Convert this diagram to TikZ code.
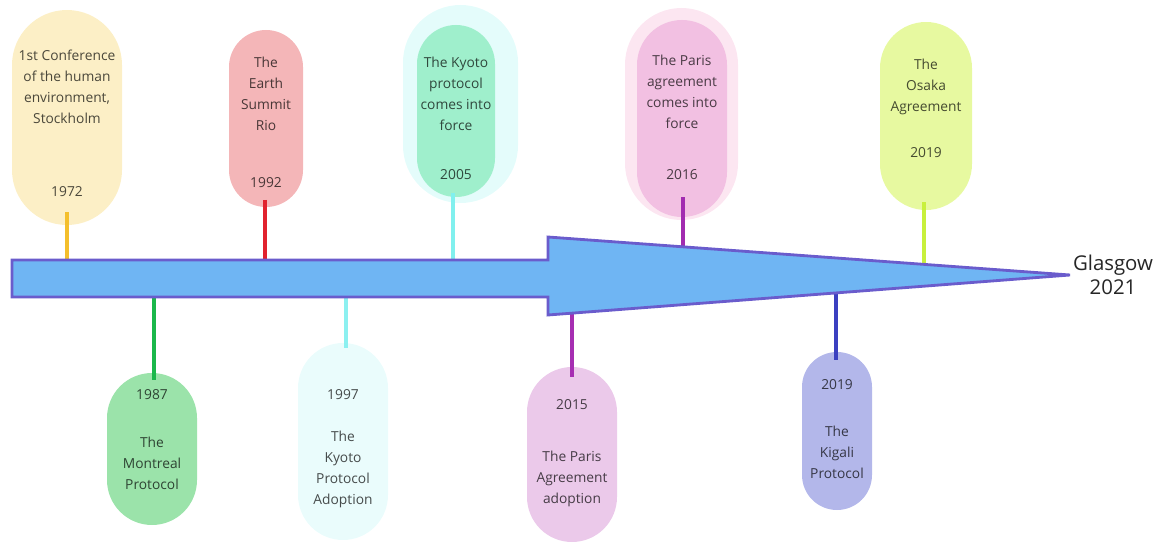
\documentclass[tikz,border=0pt]{standalone}
\usepackage{fontspec}
\setmainfont{Open Sans}
\definecolor{c1972}{HTML}{FCEFC6}
\definecolor{s1972}{HTML}{F4BF2C}
\definecolor{c1992}{HTML}{F4B6B8}
\definecolor{s1992}{HTML}{E1222E}
\definecolor{c2005}{HTML}{9FEFCC}
\definecolor{glow05}{HTML}{E4FCFB}
\definecolor{s2005}{HTML}{80F0EE}
\definecolor{c2016}{HTML}{F2C0E2}
\definecolor{glow16}{HTML}{FCE6F1}
\definecolor{s2016}{HTML}{A22CB0}
\definecolor{cosaka}{HTML}{E7F9A0}
\definecolor{sosaka}{HTML}{C8F03C}
\definecolor{c1987}{HTML}{9BE3AA}
\definecolor{s1987}{HTML}{1AB84B}
\definecolor{c1997}{HTML}{EAFCFC}
\definecolor{s1997}{HTML}{8CF0F0}
\definecolor{c2015}{HTML}{EBC9EA}
\definecolor{s2015}{HTML}{A62EB2}
\definecolor{ckigali}{HTML}{B3B7EA}
\definecolor{skigali}{HTML}{3B40C0}
\definecolor{arrowfill}{HTML}{6FB5F3}
\definecolor{arrowedge}{HTML}{6A5CCC}
\tikzset{pill/.style n args={3}{fill=#1,minimum width=#2,minimum height=#3,rounded corners=#2/2,inner sep=0pt},
txt/.style={text=#1!30!black,align=center,font=\fontsize{9.8}{15}\selectfont},
stem/.style={draw=#1,line width=2.6pt}}

\begin{document}
\begin{tikzpicture}
\useasboundingbox (0,0) rectangle (29.2,13.7);
\node[pill={glow05}{2.875cm}{4.95cm}] (g2005) at (11.5125,11.1) {};
\node[pill={glow16}{2.825cm}{5.3cm}] (g2016) at (17.0375,10.85) {};
\node[pill={c1972}{2.75cm}{5.375cm}] (p1972) at (1.675,10.7625) {};
\node[pill={c1992}{1.85cm}{4.425cm}] (p1992) at (6.65,10.7375) {};
\node[pill={c2005}{1.95cm}{4.3cm}] (p2005) at (11.4,10.925) {};
\node[pill={c2016}{2.25cm}{4.925cm}] (p2016) at (17.05,10.7375) {};
\node[pill={cosaka}{2.3cm}{4.7cm}] (p2019a) at (23.15,10.8) {};
\node[pill={c1987}{2.25cm}{3.8cm}] (p1987) at (3.8,2.475) {};
\node[pill={c1997}{2.25cm}{4.925cm}] (p1997) at (8.575,2.6625) {};
\node[pill={c2015}{2.25cm}{4.375cm}] (p2015) at (14.3,2.3375) {};
\node[pill={ckigali}{1.75cm}{3.95cm}] (p2019b) at (20.925,2.925) {};
\node[txt=c1972] (l1972) at (1.675,11.5375) {1st Conference\\of the human\\environment,\\Stockholm};
\node[txt=c1972] (y1972) at (1.675,8.9) {1972};
\node[txt=c1992] (l1992) at (6.65,11.3625) {The\\Earth\\Summit\\Rio};
\node[txt=c1992] (y1992) at (6.65,9.125) {1992};
\node[txt=c2005] (l2005) at (11.4,11.3625) {The Kyoto\\protocol\\comes into\\force};
\node[txt=c2005] (y2005) at (11.4,9.325) {2005};
\node[txt=c2016] (l2016) at (17.05,11.4) {The Paris\\agreement\\comes into\\force};
\node[txt=c2016] (y2016) at (17.05,9.325) {2016};
\node[txt=cosaka] (l2019a) at (23.15,11.5325) {The\\Osaka\\Agreement};
\node[txt=cosaka] (y2019a) at (23.15,9.875) {2019};
\node[txt=c1987] (y1987) at (3.8,3.825) {1987};
\node[txt=c1987] (l1987) at (3.8,2.1175) {The\\Montreal\\Protocol};
\node[txt=c1997] (y1997) at (8.575,3.825) {1997};
\node[txt=c1997] (l1997) at (8.575,1.9625) {The\\Kyoto\\Protocol\\Adoption};
\node[txt=c2015] (y2015) at (14.3,3.575) {2015};
\node[txt=c2015] (l2015) at (14.3,1.725) {The Paris\\Agreement\\adoption};
\node[txt=ckigali] (y2019b) at (20.925,4.075) {2019};
\node[txt=ckigali] (l2019b) at (20.925,2.3825) {The\\Kigali\\Protocol};
\coordinate (s1972) at (1.675,8.4);
\coordinate (a1972) at (1.675,7.2);
\coordinate (s1992) at (6.625,8.7);
\coordinate (a1992) at (6.625,7.2);
\coordinate (s2005) at (11.325,8.875);
\coordinate (a2005) at (11.325,7.2);
\coordinate (s2016) at (17.075,8.775);
\coordinate (a2016) at (17.075,7.525);
\coordinate (s2019a) at (23.1,8.65);
\coordinate (a2019a) at (23.1,7.1);
\coordinate (s1987) at (3.85,4.2);
\coordinate (a1987) at (3.85,6.275);
\coordinate (s1997) at (8.65,5.0);
\coordinate (a1997) at (8.65,6.275);
\coordinate (s2015) at (14.3,4.275);
\coordinate (a2015) at (14.3,5.875);
\coordinate (s2019b) at (20.9,4.7);
\coordinate (a2019b) at (20.9,6.45);
\draw[stem=s1972] (s1972) -- (a1972);
\draw[stem=s1992] (s1992) -- (a1992);
\draw[stem=s2005] (s2005) -- (a2005);
\draw[stem=s2016] (s2016) -- (a2016);
\draw[stem=sosaka] (s2019a) -- (a2019a);
\draw[stem=s1987] (a1987) -- (s1987);
\draw[stem=s1997] (a1997) -- (s1997);
\draw[stem=s2015] (a2015) -- (s2015);
\draw[stem=skigali] (a2019b) -- (s2019b);
\coordinate (tip) at (26.75,6.825);
\draw[fill=arrowfill,draw=arrowedge,line width=2pt,line join=miter] (0.3,7.2) -- (13.7,7.2) -- (13.7,7.775) -- (tip) -- (13.7,5.825) -- (13.7,6.275) -- (0.3,6.275) -- cycle;
\node[align=center,text=black!85,font=\fontsize{14.5}{17}\selectfont] (glasgow) at (27.825,6.825) {Glasgow\\2021};
\end{tikzpicture}
\end{document}
